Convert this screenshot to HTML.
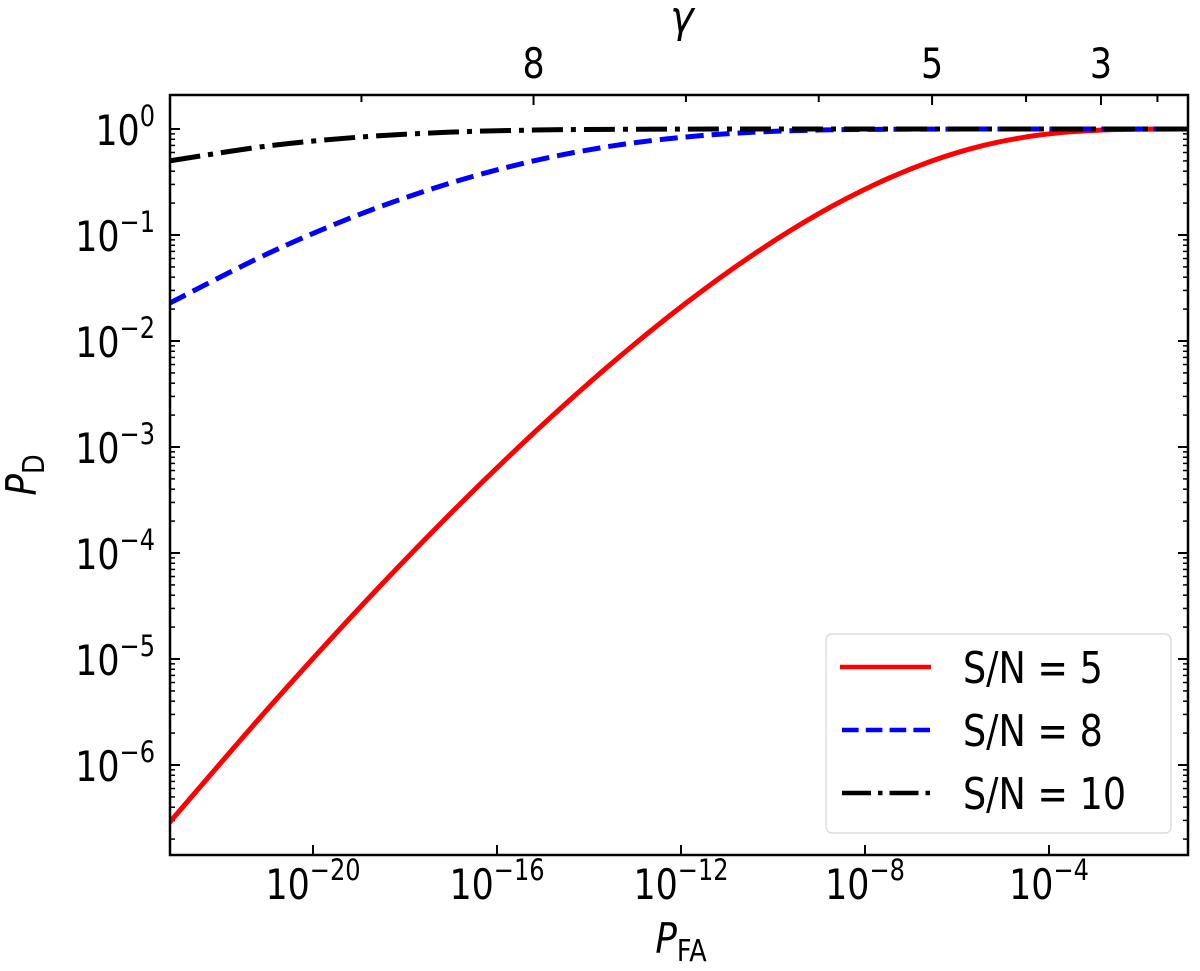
<!DOCTYPE html>
<html><head><meta charset="utf-8"><style>
body{margin:0;background:#fff}
svg text{font-family:"DejaVu Sans","Liberation Sans",sans-serif;fill:#000}
</style></head><body>
<svg id="chart" width="1200" height="966" viewBox="0 0 1200 966" xmlns="http://www.w3.org/2000/svg">
<rect width="1200" height="966" fill="#fff"/>
<defs><clipPath id="pa"><rect x="170" y="95" width="1018" height="760"/></clipPath></defs>
<g id="ticks"></g>
<g id="lines" clip-path="url(#pa)"></g>
<rect x="170" y="95" width="1018" height="760" fill="none" stroke="#000" stroke-width="2.5"/>
<g transform="translate(681,953) scale(0.85,1)"><text x="0" y="0" font-size="42" text-anchor="middle"><tspan font-style="italic">P</tspan><tspan font-size="30" dy="8">FA</tspan></text></g>
<g transform="translate(36,475) rotate(-90) scale(0.85,1)"><text x="0" y="0" font-size="42" text-anchor="middle"><tspan font-style="italic">P</tspan><tspan font-size="30" dy="8">D</tspan></text></g>
<g transform="translate(682,32) scale(0.9,1)"><text x="0" y="0" font-size="44" font-style="italic" text-anchor="middle">γ</text></g>
<g>
<rect x="826" y="634" width="345" height="199" rx="6" fill="#fff" stroke="#ddd" stroke-width="1.5"/>
<line x1="840" y1="667" x2="931" y2="667" stroke="#f00" stroke-width="4.5"/>
<g transform="translate(963,683) scale(0.83,1)"><text x="0" y="0" font-size="44">S/N = 5</text></g>
<line x1="842" y1="730" x2="931" y2="730" stroke="#00f" stroke-width="4.5" stroke-dasharray="16.6 7.2"/>
<g transform="translate(963,746) scale(0.83,1)"><text x="0" y="0" font-size="44">S/N = 8</text></g>
<line x1="842" y1="793" x2="931" y2="793" stroke="#000" stroke-width="4.5" stroke-dasharray="29 7 4.5 7"/>
<g transform="translate(963,809) scale(0.83,1)"><text x="0" y="0" font-size="44">S/N = 10</text></g>
</g>
</svg>
<script>
// threshold gamma for each sample
const gammas = [10,9.5,9,8.5,8,7.5,7,6.5,6,5.5,5,4.5,4,3.5,3,2.5,2,1.5,1.28];
// log10 P_FA
const logPFA = [-23.118,-20.979,-18.947,-17.023,-15.206,-13.496,-11.893,-10.396,-9.006,-7.721,-6.542,-5.469,-4.499,-3.633,-2.870,-2.207,-1.643,-1.175,-0.999];
// log10 P_D per series
const logPD_snr5 = [-6.542,-5.469,-4.499,-3.633,-2.870,-2.207,-1.643,-1.175,-0.799,-0.511,-0.301,-0.160,-0.075,-0.030,-0.010,-0.003,-0.001,0,0];
const logPD_snr8 = [-1.643,-1.175,-0.799,-0.511,-0.301,-0.160,-0.075,-0.030,-0.010,-0.003,-0.001,0,0,0,0,0,0,0,0];
const logPD_snr10 = [-0.301,-0.160,-0.075,-0.030,-0.010,-0.003,-0.001,0,0,0,0,0,0,0,0,0,0,0,0];
const xTickExps = [-20,-16,-12,-8,-4];
const yTickExps = [0,-1,-2,-3,-4,-5,-6];
const topGammaTicks = [9,8,7,6,5,4,3,2];
const topGammaLogPFA = [-18.947,-15.206,-11.893,-9.006,-6.542,-4.499,-2.870,-1.643];
const topGammaLabels = ["","8","","","5","","3",""];

const NS="http://www.w3.org/2000/svg";
const X0=170,X1=1188,Y0=95,Y1=855;
const xs=lx=>313+(lx+20)*46;
const ys=ly=>129-ly*106;
const tk=document.getElementById('ticks'), ln=document.getElementById('lines');
function mk(tag,attrs,parent){const e=document.createElementNS(NS,tag);for(const k in attrs)e.setAttribute(k,attrs[k]);parent.appendChild(e);return e;}

xTickExps.forEach(e=>{
  const x=xs(e);
  const t=mk('line',{x1:x,x2:x,y1:Y1,y2:Y1-10,stroke:'#000','stroke-width':2},tk);
  
  
  const g=mk('g',{transform:'translate('+x+',899) scale(0.83,1)'},tk);
  const l=mk('text',{x:0,y:0,'font-size':42,'text-anchor':'middle'},g);
  
  
  l.innerHTML='10<tspan font-size="29" dy="-19">\u2212'+Math.abs(e)+'</tspan>';
});
yTickExps.forEach(e=>{
  const y=ys(e);
  [[X0,X0+10],[X1,X1-10]].forEach(p=>{
    const t=mk('line',{x1:p[0],x2:p[1],y1:y,y2:y,stroke:'#000','stroke-width':2},tk);
    
    
  });
  for(let m=2;m<=9;m++){
    const ym=ys(e-1+Math.log10(m));
    if(ym<Y0||ym>Y1) continue;
    [[X0,X0+5],[X1,X1-5]].forEach(p=>{
      const t=mk('line',{x1:p[0],x2:p[1],y1:ym,y2:ym,stroke:'#000','stroke-width':1.5},tk);
      
      
    });
  }
  const g=mk('g',{transform:'translate(155,'+(y+16)+') scale(0.83,1)'},tk);
  const l=mk('text',{x:0,y:0,'font-size':42,'text-anchor':'end'},g);
  
  
  l.innerHTML='10<tspan font-size="29" dy="-19">'+(e===0?'0':'\u2212'+Math.abs(e))+'</tspan>';
});
topGammaTicks.forEach((g,i)=>{
  const x=xs(topGammaLogPFA[i]);
  const t=mk('line',{x1:x,x2:x,y1:Y0,y2:Y0+(topGammaLabels[i]?10:7),stroke:'#000','stroke-width':2},tk);
  
  
  if(topGammaLabels[i]){
    const gg=mk('g',{transform:'translate('+x+',78) scale(0.83,1)'},tk);
    const l=mk('text',{x:0,y:0,'font-size':42,'text-anchor':'middle'},gg);
    
    
    l.textContent=topGammaLabels[i];
  }
});

function path(vals){
  const pts=logPFA.map((lx,i)=>[xs(lx),ys(vals[i])]);
  let d='M'+pts[0][0]+','+pts[0][1];
  for(let i=0;i<pts.length-1;i++){
    const p0=pts[i-1]||pts[i],p1=pts[i],p2=pts[i+1],p3=pts[i+2]||p2;
    const c1=[p1[0]+(p2[0]-p0[0])/6,p1[1]+(p2[1]-p0[1])/6];
    const c2=[p2[0]-(p3[0]-p1[0])/6,p2[1]-(p3[1]-p1[1])/6];
    d+=' C'+c1+' '+c2+' '+p2;
  }
  return d;
}
const s5=mk('path',{d:path(logPD_snr5),fill:'none',stroke:'#f00','stroke-width':5},ln);


const s8=mk('path',{d:path(logPD_snr8),fill:'none',stroke:'#00f','stroke-width':5,'stroke-dasharray':'18 8'},ln);


const s10=mk('path',{d:path(logPD_snr10),fill:'none',stroke:'#000','stroke-width':5,'stroke-dasharray':'31 8 5 8'},ln);


</script>
</body></html>
